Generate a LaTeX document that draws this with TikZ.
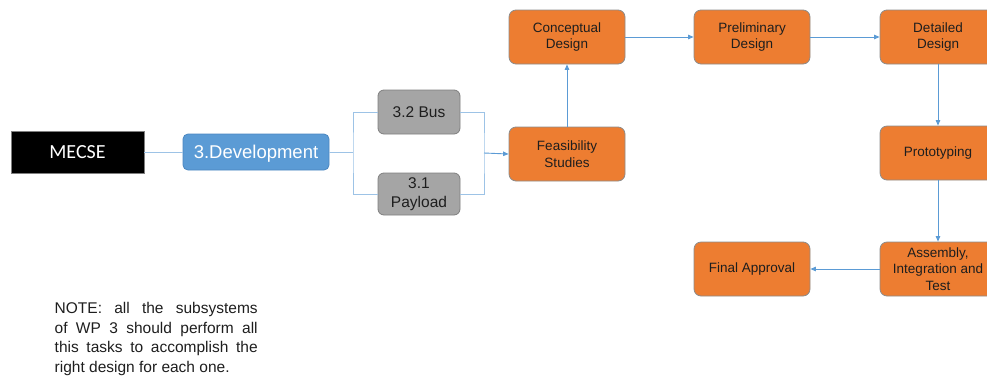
\documentclass[tikz,border=0pt]{standalone}
\usepackage{fontspec}
\setmainfont{Liberation Sans}
\newfontfamily\calibfont{Carlito}
\usetikzlibrary{arrows.meta}
\definecolor{taskorange}{HTML}{ED7D31}
\definecolor{taskedge}{HTML}{8C8C8C}
\definecolor{devblue}{HTML}{5B9BD5}
\definecolor{devedge}{HTML}{4A86C0}
\definecolor{subgray}{HTML}{A5A5A5}
\definecolor{subedge}{HTML}{7F7F7F}
\definecolor{linkblue}{HTML}{9DC3E6}
\definecolor{arrowblue}{HTML}{5B9BD5}
\definecolor{textdark}{HTML}{1E1E1E}
% one fully justified line of the note
\newcommand{\fullline}[1]{\makebox[203pt][s]{#1}}
\begin{document}
\begin{tikzpicture}[x=1pt,y=-1pt,
  taskbox/.style={rectangle, rounded corners=7pt, fill=taskorange, draw=taskedge,
    line width=0.8pt, minimum width=116pt, minimum height=54pt, inner sep=2pt,
    align=center, text=textdark,
    font=\fontsize{13.5}{16.5}\selectfont},
  subbox/.style={rectangle, rounded corners=6pt, fill=subgray, draw=subedge,
    line width=0.8pt, minimum width=82pt, inner sep=1pt, align=center,
    text=textdark, font=\fontsize{15.5}{18.5}\selectfont},
  link/.style={draw=linkblue, line width=0.9pt},
  flow/.style={draw=arrowblue, line width=0.9pt,
    -{Triangle[length=5.5pt,width=4.5pt]}}]
\useasboundingbox (0,0) rectangle (987,378);
\clip (0,0) rectangle (987,378);

% work package chain
\node[rectangle, fill=black, draw=subedge, line width=0.6pt,
  minimum width=133pt, minimum height=42pt, text=white,
  font=\calibfont\fontsize{20}{23}\selectfont] (mecse) at (77.5,152) {MECSE};
\node[rectangle, rounded corners=5pt, fill=devblue, draw=devedge,
  line width=0.8pt, minimum width=146pt, minimum height=36pt, text=white,
  text height=13.5pt, text depth=1.5pt,
  font=\fontsize{18.5}{22}\selectfont] (dev) at (256,152) {3.Development};

% subsystems
\node[subbox, minimum height=44pt] (bus) at (419,112) {3.2 Bus};
\node[subbox, minimum height=42pt] (payload) at (419,194) {3.1\\Payload};

% development tasks
\node[taskbox] (feas) at (567,154) {Feasibility\\Studies};
\node[taskbox] (concept) at (567,37) {Conceptual\\Design};
\node[taskbox] (prelim) at (752,37) {Preliminary\\Design};
\node[taskbox] (detail) at (938,37) {Detailed\\Design};
\node[taskbox] (proto) at (938,153) {Prototyping};
\node[taskbox] (ait) at (938,269) {Assembly,\\Integration and\\Test};
\node[taskbox] (final) at (752,269) {Final Approval};

% junction points of the subsystem bracket
\coordinate (splitx) at (353,152);
\coordinate (joinx) at (484,153);

\draw[link] (mecse.east) -- (dev.west);
\draw[link] (dev.east) -- (splitx);
\draw[link] (bus.west) -| (splitx) |- (payload.west);
\draw[link] (bus.east) -| (joinx) |- (payload.east);
\draw[flow] (joinx) -- (feas.west);

\draw[flow] (feas.north) -- (concept.south);
\draw[flow] (concept.east) -- (prelim.west);
\draw[flow] (prelim.east) -- (detail.west);
\draw[flow] (detail.south) -- (proto.north);
\draw[flow] (proto.south) -- (ait.north);
\draw[flow] (ait.west) -- (final.east);

% note
\node[anchor=north west, inner sep=0pt, align=left,
  text=textdark, font=\fontsize{15.5}{19.7}\selectfont] (note) at (54.5,302)
  {\fullline{NOTE: all the subsystems}\\
   \fullline{of WP 3 should perform all}\\
   \fullline{this tasks to accomplish the}\\
   right design for each one.};
\end{tikzpicture}
\end{document}
